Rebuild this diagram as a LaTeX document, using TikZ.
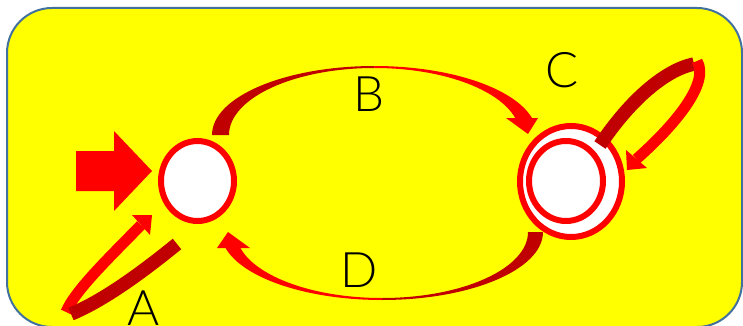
\documentclass[tikz,border=0pt]{standalone}
\usepackage{fontspec}
\newfontfamily\lbl{Lato Light}
\usetikzlibrary{shapes.geometric}
\definecolor{bg}{HTML}{FFFF00}
\definecolor{frame}{HTML}{41719C}
\definecolor{hot}{HTML}{FF0000}
\definecolor{deep}{HTML}{C00000}

\begin{document}
\begin{tikzpicture}[x=1pt,y=-1pt,
  state/.style={draw=hot, line width=6pt, fill=white, ellipse, inner sep=0pt},
  front/.style={fill=hot},
  back/.style={fill=deep},
  frontband/.style={draw=hot, line width=11pt},
  backband/.style={draw=deep, line width=13.5pt},
  lab/.style={font=\lbl\fontsize{49}{50}\selectfont, anchor=base, inner sep=0pt}]
\useasboundingbox (0,0) rectangle (743,326);
\fill[white] (0,0) rectangle (743,326);
\draw[frame, fill=bg, line width=2pt, rounded corners=45pt] (7,8) rectangle (742,327);

% states
\node[state, minimum width=73pt, minimum height=80pt] (q0) at (197.5,181) {};
\node[state, minimum width=102pt, minimum height=111pt] (q1) at (571,181.5) {};
\node[state, minimum width=74pt, minimum height=80pt] (q1in) at (566,181) {};

% start arrow
\fill[front] (76,151) -- (114,151) -- (114,131) -- (152,171) -- (114,211) -- (114,191) -- (76,191) -- cycle;

% B: upper arc from q0 to q1
\fill[back] (212,135) arc[start angle=180, end angle=90, x radius=162.5pt, y radius=69pt]
  -- ++(0,2) arc[start angle=90, end angle=180, x radius=145.5pt, y radius=67pt] -- cycle;
\fill[front] (374.5,66) arc[start angle=90, end angle=14.26, x radius=162.5pt, y radius=69pt]
  -- (515.2,118) arc[start angle=14.7, end angle=90, x radius=145.5pt, y radius=67pt] -- cycle;
\fill[front] (506,118) -- (538,118) -- (528,134) -- cycle;

% D: lower arc from q1 back to q0
\fill[back] (543,232) arc[start angle=0, end angle=-90, x radius=161pt, y radius=68pt]
  -- ++(0,-2) arc[start angle=-90, end angle=0, x radius=146pt, y radius=66pt] -- cycle;
\fill[front] (382,300) arc[start angle=270, end angle=193.6, x radius=161pt, y radius=68pt]
  -- (240.4,248) arc[start angle=194.03, end angle=270, x radius=146pt, y radius=66pt] -- cycle;
\fill[front] (217,248) -- (250,248) -- (228,232) -- cycle;

% C: self loop on q1
\draw[backband] (600,145) .. controls (630,100) and (665,70) .. (694,64);
\draw[frontband] (697,61) .. controls (710,83) and (675,125) .. (636.5,159);
\fill[front] (626,150) -- (647,168) -- (627,170) -- cycle;

% A: self loop on q0
\draw[frontband] (66,312) .. controls (75,290) and (112,255) .. (141,225);
\fill[front] (132,215) -- (150,235) -- (152,215) -- cycle;
\draw[backband] (177,244) .. controls (145,270) and (105,300) .. (71,314);

% labels
\node[lab] (la) at (143.5,325) {A};
\node[lab] (lb) at (369,111) {B};
\node[lab] (lc) at (562,88) {C};
\node[lab] (ld) at (359,287) {D};
\end{tikzpicture}
\end{document}
